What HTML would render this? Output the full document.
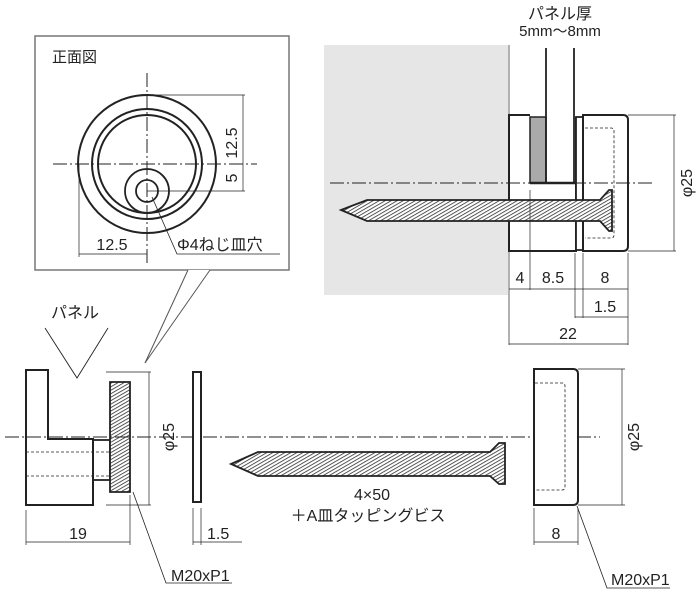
<!DOCTYPE html>
<html><head><meta charset="utf-8"><style>
html,body{margin:0;padding:0;background:#fff;}
svg{display:block;}
text{font-family:"Liberation Sans","Noto Sans CJK JP",sans-serif;fill:#222;}
</style></head><body>
<svg width="699" height="605" viewBox="0 0 699 605" xmlns="http://www.w3.org/2000/svg">
<defs>
<pattern id="h" width="3" height="3" patternUnits="userSpaceOnUse" patternTransform="rotate(60)">
<rect width="3" height="3" fill="#fff"/><line x1="0" y1="0" x2="0" y2="3" stroke="#222" stroke-width="1.5"/>
</pattern>
</defs>
<g fill="none" stroke="#222" stroke-width="1">
<!-- front view box -->
<rect x="35" y="36" width="254" height="234" stroke="#777" stroke-width="1.5"/>
<polygon points="188,270 210,270 145,363" fill="#fff" stroke="none"/>
<line x1="188" y1="270" x2="145" y2="363" stroke="#555"/>
<line x1="210" y1="270" x2="145" y2="363" stroke="#555"/>
<circle cx="147" cy="164" r="69" stroke-width="2"/>
<circle cx="147" cy="164" r="55" stroke-width="2"/>
<circle cx="147" cy="164" r="49" stroke-width="2"/>
<circle cx="147" cy="191" r="22" stroke-width="1.8"/>
<circle cx="147" cy="191" r="11" stroke-width="1.8"/>
<line x1="147" y1="73" x2="147" y2="263" stroke-dasharray="14,3,2,3"/>
<line x1="53" y1="164" x2="257" y2="164" stroke-dasharray="14,3,2,3"/>
<line x1="147" y1="95" x2="245" y2="95" stroke-width=".7"/>
<line x1="147" y1="191" x2="245" y2="191" stroke-width=".7"/>
<line x1="243" y1="95" x2="243" y2="191" stroke-width=".7"/>
<line x1="79" y1="164" x2="79" y2="257" stroke-width=".7"/>
<line x1="79" y1="254" x2="147" y2="254" stroke-width=".7"/>
<polyline points="152,197 177,254 280,254" stroke-width=".8"/>

<!-- top right assembly -->
<rect x="324" y="45" width="184" height="250" fill="#e6e6e6" stroke="none"/>
<line x1="509" y1="45" x2="509" y2="345" stroke-width=".7"/>
<polyline points="530,115 509,115 509,251 576,251 576,117" fill="#fff" stroke-width="2"/>
<rect x="530" y="117" width="16" height="66" fill="#aaa" stroke="#222" stroke-width="1.5"/>
<line x1="546" y1="48" x2="546" y2="183" stroke-width="1.8"/>
<line x1="574" y1="48" x2="574" y2="183" stroke-width="1.8"/>
<line x1="530" y1="183" x2="575" y2="183" stroke-width="2.5"/>
<rect x="576" y="117" width="7" height="133" fill="#fff" stroke-width="1.8"/>
<path d="M583,115 H623 Q628,115 628,120 V246 Q628,251 623,251 H583 Z" fill="#fff" stroke-width="2"/>
<path d="M585,128 H611 Q614,128 614,131 V235 Q614,238 611,238 H585" stroke-dasharray="3,2" stroke-width=".8"/>
<line x1="330" y1="183" x2="655" y2="183" stroke-dasharray="14,3,2,3"/>
<polygon points="341,210 367,200 600,200 609,190 612,190 612,231 609,231 600,221 367,221" fill="url(#h)" stroke-width="1.8"/>
<line x1="530" y1="190" x2="530" y2="290" stroke-width=".7"/>
<line x1="575" y1="253" x2="575" y2="318" stroke-width=".7"/>
<line x1="583" y1="253" x2="583" y2="318" stroke-width=".7"/>
<line x1="628" y1="253" x2="628" y2="345" stroke-width=".7"/>
<line x1="509" y1="289" x2="628" y2="289" stroke-width=".7"/>
<line x1="575" y1="317" x2="628" y2="317" stroke-width=".7"/>
<line x1="509" y1="344" x2="628" y2="344" stroke-width=".7"/>
<line x1="628" y1="115" x2="676" y2="115" stroke-width=".7"/>
<line x1="628" y1="251" x2="676" y2="251" stroke-width=".7"/>
<line x1="674" y1="115" x2="674" y2="251" stroke-width=".7"/>

<!-- bottom left part -->
<polyline points="45,328 77,378 108,328" stroke-width=".9"/>
<polygon points="26,370 48,370 48,439 93,439 93,505 26,505" fill="#fff" stroke-width="2"/>
<rect x="93" y="440" width="17" height="40" stroke-width="1.8"/>
<path d="M110,382 L130,382 L130,492 L110,492 Z" fill="url(#h)" stroke-width="1.8"/>
<line x1="26" y1="452" x2="110" y2="452" stroke-dasharray="3,2" stroke-width=".8"/>
<line x1="26" y1="476" x2="110" y2="476" stroke-dasharray="3,2" stroke-width=".8"/>
<line x1="5" y1="437" x2="600" y2="437" stroke-dasharray="14,3,2,3"/>
<line x1="106" y1="372" x2="151" y2="372" stroke-width=".7"/>
<line x1="106" y1="505" x2="151" y2="505" stroke-width=".7"/>
<line x1="149" y1="372" x2="149" y2="505" stroke-width=".7"/>
<line x1="26" y1="510" x2="26" y2="545" stroke-width=".7"/>
<line x1="130" y1="495" x2="130" y2="545" stroke-width=".7"/>
<line x1="26" y1="542" x2="130" y2="542" stroke-width=".7"/>
<polyline points="133,492 166,583 232,583" stroke-width=".8"/>
<rect x="193" y="372" width="8" height="130" fill="#fff" stroke-width="2"/>
<line x1="193" y1="508" x2="193" y2="545" stroke-width=".7"/>
<line x1="201" y1="508" x2="201" y2="545" stroke-width=".7"/>
<line x1="193" y1="542" x2="242" y2="542" stroke-width=".7"/>

<!-- bottom screw -->
<polygon points="231,464 258,452 490,452 499,443 505,443 505,484 499,484 490,476 258,476" fill="url(#h)" stroke-width="1.8"/>

<!-- cap -->
<path d="M534,369 H573 Q578,369 578,374 V500 Q578,505 573,505 H534 Z" fill="#fff" stroke-width="2"/>
<path d="M535,383 H562 Q565,383 565,386 V487 Q565,490 562,490 H535" stroke-dasharray="3,2" stroke-width=".8"/>
<line x1="578" y1="369" x2="625" y2="369" stroke-width=".7"/>
<line x1="578" y1="505" x2="625" y2="505" stroke-width=".7"/>
<line x1="622" y1="369" x2="622" y2="505" stroke-width=".7"/>
<line x1="534" y1="508" x2="534" y2="545" stroke-width=".7"/>
<line x1="578" y1="508" x2="578" y2="545" stroke-width=".7"/>
<line x1="534" y1="542" x2="578" y2="542" stroke-width=".7"/>
<polyline points="577,506 607,588 670,588" stroke-width=".8"/>
</g>

<g font-size="16">
<text x="52" y="62" font-size="15">正面図</text>
<text x="237" y="143" transform="rotate(-90 237 143)" text-anchor="middle">12.5</text>
<text x="237" y="178" transform="rotate(-90 237 178)" text-anchor="middle">5</text>
<text x="112" y="250" text-anchor="middle">12.5</text>
<text x="177" y="250">Φ4ねじ皿穴</text>

<text x="560" y="19" text-anchor="middle">パネル厚</text>
<text x="560" y="36" text-anchor="middle" font-size="15">5mm～8mm</text>
<text x="520" y="283" text-anchor="middle">4</text>
<text x="553" y="283" text-anchor="middle">8.5</text>
<text x="605" y="283" text-anchor="middle">8</text>
<text x="605" y="312" text-anchor="middle">1.5</text>
<text x="568" y="339" text-anchor="middle">22</text>
<text x="692" y="183" transform="rotate(-90 692 183)" text-anchor="middle">φ25</text>

<text x="75" y="318" text-anchor="middle">パネル</text>
<text x="174" y="437" transform="rotate(-90 174 437)" text-anchor="middle">φ25</text>
<text x="78" y="539" text-anchor="middle">19</text>
<text x="207" y="539">1.5</text>
<text x="171" y="581">M20xP1</text>
<text x="372" y="500" text-anchor="middle">4×50</text>
<text x="368" y="521" text-anchor="middle">＋A皿タッピングビス</text>
<text x="639" y="437" transform="rotate(-90 639 437)" text-anchor="middle">φ25</text>
<text x="556" y="539" text-anchor="middle">8</text>
<text x="611" y="585">M20xP1</text>
</g>
</svg>
</body></html>
